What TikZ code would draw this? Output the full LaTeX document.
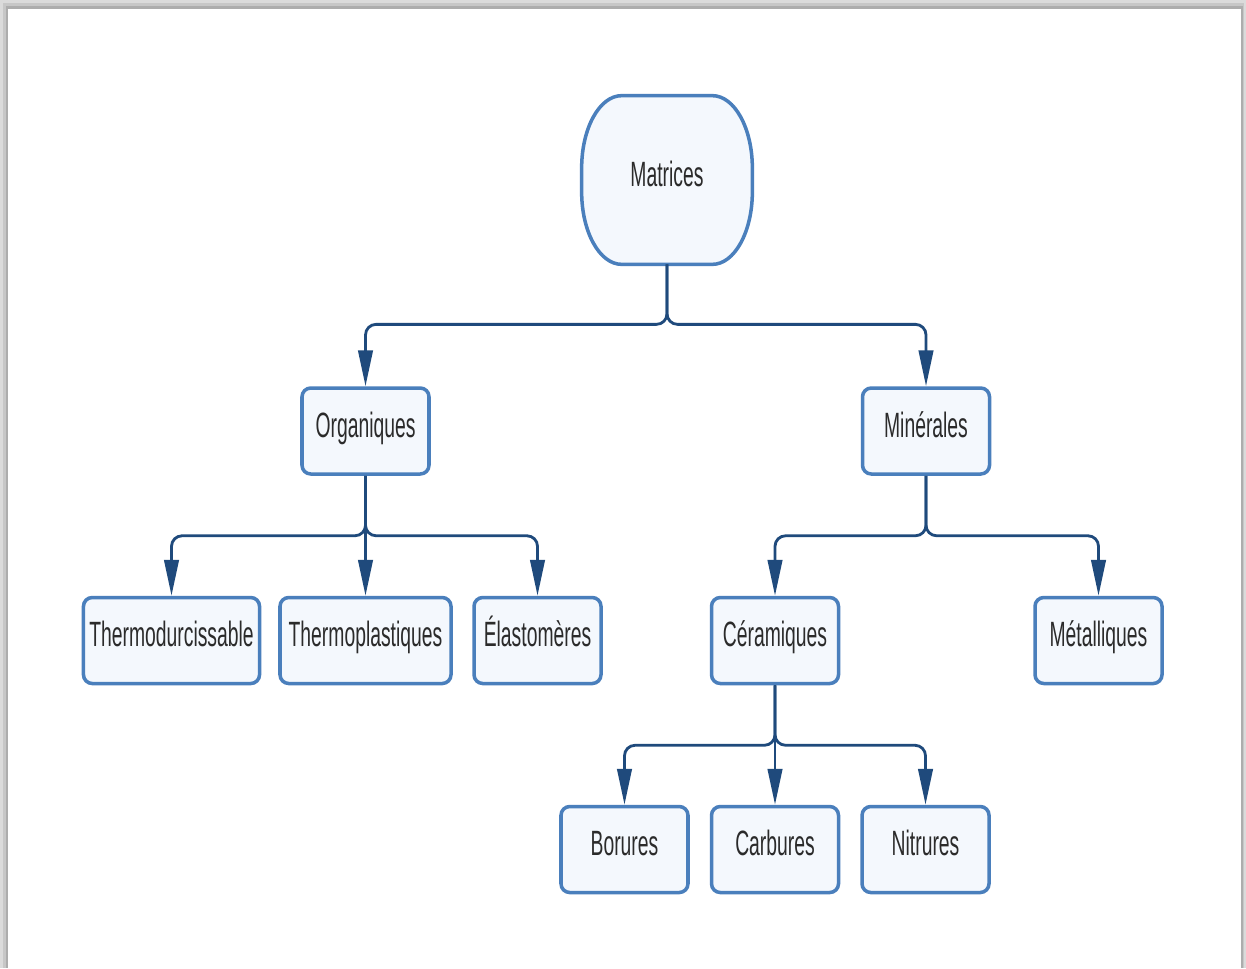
\documentclass[tikz,border=0pt]{standalone}
\usepackage{fontspec}
\setmainfont{Liberation Sans}[FakeStretch=0.55]
\usetikzlibrary{positioning}
\usetikzlibrary{arrows.meta}

\definecolor{boxline}{HTML}{4A7FBC}
\definecolor{boxfill}{HTML}{F4F8FD}
\definecolor{linkline}{HTML}{1F4A7C}
\definecolor{boxtext}{HTML}{2B2B2B}

\begin{document}
\begin{tikzpicture}[
		box/.style={
			rectangle,
			draw=boxline,
			fill=boxfill,
			line width=2pt,
			rounded corners=5pt,
			text=boxtext,
			font=\fontsize{20pt}{24pt}\selectfont,
			text height=12pt,
			text depth=5pt,
			minimum height=1.72cm,
			minimum width=2.54cm
		},
		widebox/.style={
			box,
			minimum width=3.42cm
		},
		link/.style={
			draw=linkline,
			line width=1.6pt,
			rounded corners=6pt,
			-{Triangle[length=0.72cm,width=0.29cm]}
		}]

		% page with its shadow
		\useasboundingbox (0,0) rectangle (24.92,-19.36);
		\fill[black!14] (0,0) rectangle (24.92,-19.36);
		\fill[black!22] (0.05,-0.06) rectangle (24.88,-19.36);
		\fill[black!32] (0.11,-0.12) rectangle (24.85,-19.36);
		\fill[white] (0.16,-0.18) rectangle (24.82,-19.36);

		%root
		\node[draw=none,
			minimum width=3.4cm,
			minimum height=3.36cm] at (13.34,-3.6) (mat) {};
		\draw[draw=boxline, fill=boxfill, line width=2pt]
			([xshift=0.8cm]mat.north west) -- ([xshift=-0.8cm]mat.north east)
			arc[start angle=90, end angle=0, x radius=0.8cm, y radius=1.45cm]
			-- ([yshift=1.45cm]mat.south east)
			arc[start angle=0, end angle=-90, x radius=0.8cm, y radius=1.45cm]
			-- ([xshift=0.8cm]mat.south west)
			arc[start angle=270, end angle=180, x radius=0.8cm, y radius=1.45cm]
			-- ([yshift=-1.45cm]mat.north west)
			arc[start angle=180, end angle=90, x radius=0.8cm, y radius=1.45cm]
			-- cycle;
		\node[text=boxtext, font=\fontsize{20pt}{24pt}\selectfont,
			text height=12pt, text depth=5pt] at (mat) {Matrices};

		%second level
		\node[box] at (7.31,-8.62) (org) {Organiques};
		\node[box] at (18.52,-8.62) (min) {Minérales};

		%third level
		\node[widebox] at (3.43,-12.81) (thd) {Thermodurcissable};
		\node[widebox] at (7.31,-12.81) (thp) {Thermoplastiques};
		\node[box] at (10.75,-12.81) (ela) {Élastomères};
		\node[box] at (15.5,-12.81) (cer) {Céramiques};
		\node[box] at (21.97,-12.81) (met) {Métalliques};

		%fourth level
		\node[box] at (15.5,-16.99) (car) {Carbures};
		\node[box, left=0.4cm of car] (bor) {Borures};
		\node[box, right=0.4cm of car] (nit) {Nitrures};

		%links
		\draw[link] (mat.south) -- ++(0,-1.2) -| (org.north);
		\draw[link] (mat.south) -- ++(0,-1.2) -| (min.north);

		\draw[link] (org.south) -- ++(0,-1.2) -| (thd.north);
		\draw[link] (org.south) -- (thp.north);
		\draw[link] (org.south) -- ++(0,-1.2) -| (ela.north);

		\draw[link] (min.south) -- ++(0,-1.2) -| (cer.north);
		\draw[link] (min.south) -- ++(0,-1.2) -| (met.north);

		\draw[link] (cer.south) -- ++(0,-1.2) -| (bor.north);
		\draw[link] (cer.south) -- (car.north);
		\draw[link] (cer.south) -- ++(0,-1.2) -| (nit.north);

	\end{tikzpicture}
\end{document}
